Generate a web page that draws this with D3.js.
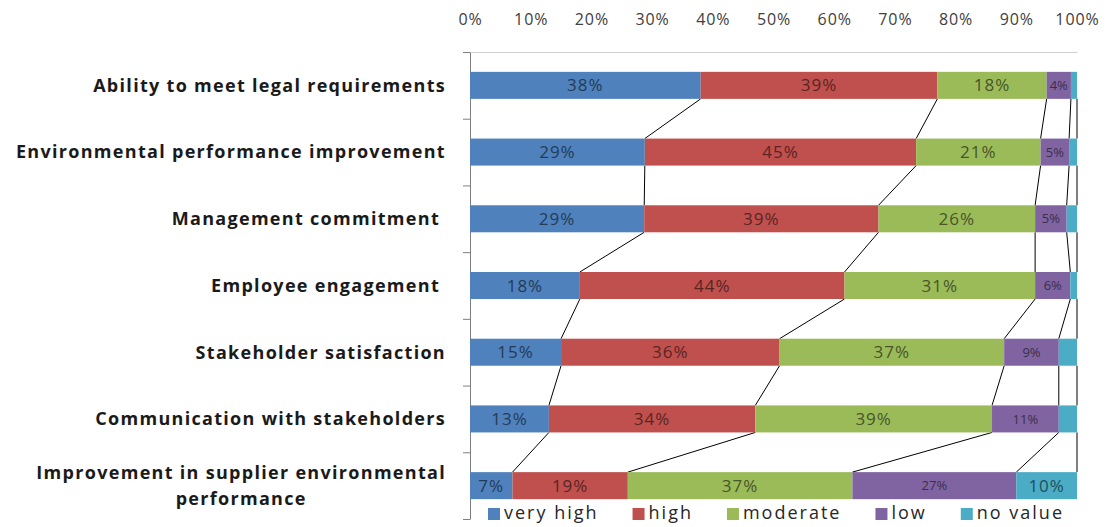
<!DOCTYPE html>
<html>
<head>
<meta charset="utf-8">
<script src="https://cdn.jsdelivr.net/npm/d3@7"></script>
<style>
  html, body { margin: 0; padding: 0; background: #ffffff; }
  svg { display: block; }
</style>
</head>
<body>
<svg id="chart" width="1107" height="527"></svg>
<script>
// ---------- data ----------
const categories = [
  "Ability to meet legal requirements",
  "Environmental performance improvement",
  "Management commitment ",
  "Employee engagement ",
  "Stakeholder satisfaction",
  "Communication with stakeholders",
  "Improvement in supplier environmental|performance"
];
const seriesNames = ["very high", "high", "moderate", "low", "no value"];
const veryHigh = [38, 28.8, 28.7, 18.1, 15, 13, 7];
const high     = [39, 44.7, 38.6, 43.6, 36, 34, 19];
const moderate = [18, 20.5, 25.8, 31.4, 37, 39, 37];
const low      = [4, 4.7, 5.2, 5.8, 9, 11, 27];
const noValue  = [1, 1.3, 1.7, 1.1, 3, 3, 10];
const tickValues = [0, 0.1, 0.2, 0.3, 0.4, 0.5, 0.6, 0.7, 0.8, 0.9, 1];
const colors = ["#4F81BD", "#C0504D", "#9BBB59", "#8064A2", "#4BACC6"];

// ---------- layout ----------
const FONT = "'Open Sans', 'Noto Sans', sans-serif";
const svg = d3.select("#chart");
const plot = { left: 470, right: 1077, top: 52, bottom: 519 };

const rows = categories.map((c, i) => ({
  cat: c,
  "very high": veryHigh[i], "high": high[i], "moderate": moderate[i],
  "low": low[i], "no value": noValue[i]
}));
const stack = d3.stack().keys(seriesNames).offset(d3.stackOffsetExpand);
const stacked = stack(rows);

const x = d3.scaleLinear().domain([0, 1]).range([plot.left, plot.right]);
const pIn = 0.595;
const y = d3.scaleBand().domain(categories).range([plot.top, plot.bottom])
  .paddingInner(pIn).paddingOuter(pIn / 2);
const bw = y.bandwidth();

// top value axis
const topAxis = d3.axisTop(x).tickValues(tickValues).tickFormat(d3.format(".0%"))
  .tickSizeInner(0).tickSizeOuter(0).tickPadding(27);
const gTop = svg.append("g").attr("transform", `translate(0,${plot.top})`).call(topAxis);
gTop.select(".domain").attr("stroke", "#d0d0d0");
gTop.selectAll("text").attr("font-family", FONT).attr("font-size", 16)
  .attr("letter-spacing", "0.9px").attr("fill", "#404040");

// left category axis (boundaries)
const yB = d3.scaleLinear().domain([0, categories.length]).range([plot.top, plot.bottom]);
const leftAxis = d3.axisLeft(yB).tickValues(d3.range(0, categories.length + 1))
  .tickFormat("").tickSizeInner(7).tickSizeOuter(0);
const gLeft = svg.append("g").attr("transform", `translate(${plot.left},0)`).call(leftAxis);
gLeft.select(".domain").attr("stroke", "#7f7f7f");
gLeft.selectAll(".tick line").attr("stroke", "#7f7f7f");

// series lines
const gLines = svg.append("g");
for (let i = 0; i < categories.length - 1; i++) {
  stacked.forEach(s => {
    gLines.append("line")
      .attr("x1", x(s[i][1])).attr("y1", y(categories[i]) + bw)
      .attr("x2", x(s[i + 1][1])).attr("y2", y(categories[i + 1]))
      .attr("stroke", "#000").attr("stroke-width", 1);
  });
}

// bars
const gBars = svg.append("g");
stacked.forEach((s, si) => {
  gBars.selectAll(null).data(s).enter().append("rect")
    .attr("x", d => x(d[0]))
    .attr("y", (d, i) => y(categories[i]))
    .attr("width", d => x(d[1]) - x(d[0]))
    .attr("height", bw)
    .attr("fill", colors[si]);
});

// data labels
const gLab = svg.append("g");
stacked.forEach((s, si) => {
  const vals = [veryHigh, high, moderate, low, noValue][si];
  s.forEach((d, i) => {
    if (vals[i] < 4) return;
    gLab.append("text")
      .attr("x", (x(d[0]) + x(d[1])) / 2)
      .attr("y", y(categories[i]) + bw / 2)
      .attr("dy", "0.36em")
      .attr("text-anchor", "middle")
      .attr("font-family", FONT)
      .attr("font-size", si === 3 ? 13 : 17)
      .attr("letter-spacing", si === 3 ? "0px" : "1px")
      .attr("fill", d3.color(colors[si]).darker(2.2))
      .text(Math.round(vals[i]) + "%");
  });
});

// category labels
const gCat = svg.append("g");
categories.forEach(c => {
  const lines = c.split("|");
  const cy = y(c) + bw / 2;
  const lh = 26;
  const t0 = cy - (lines.length - 1) * lh / 2;
  const txt = gCat.append("text")
    .attr("font-family", FONT).attr("font-weight", "bold").attr("font-size", 18)
    .attr("letter-spacing", "1.3px")
    .attr("fill", "#1a1a1a").style("white-space", "pre");
  const first = txt.append("tspan").attr("x", 446).attr("y", t0).attr("dy", "0.35em")
    .attr("text-anchor", "end").text(lines[0]);
  if (lines.length > 1) {
    const w = first.node().getComputedTextLength();
    lines.slice(1).forEach((ln, k) => {
      txt.append("tspan").attr("x", 446 - w / 2).attr("y", t0 + (k + 1) * lh)
        .attr("dy", "0.35em").attr("text-anchor", "middle").text(ln);
    });
  }
});

// legend
const gLeg = svg.append("g").attr("transform", "translate(0,513)");
let lx = 488;
seriesNames.forEach((n, i) => {
  const g = gLeg.append("g").attr("transform", `translate(${lx},0)`);
  g.append("rect").attr("x", 0).attr("y", -5).attr("width", 12).attr("height", 12)
    .attr("fill", colors[i]);
  const t = g.append("text").attr("x", 16).attr("dy", "0.36em")
    .attr("font-family", FONT).attr("font-size", 18).attr("letter-spacing", "2px")
    .attr("fill", "#262626").text(n);
  lx += 16 + t.node().getComputedTextLength() + 34;
});
</script>
</body>
</html>
